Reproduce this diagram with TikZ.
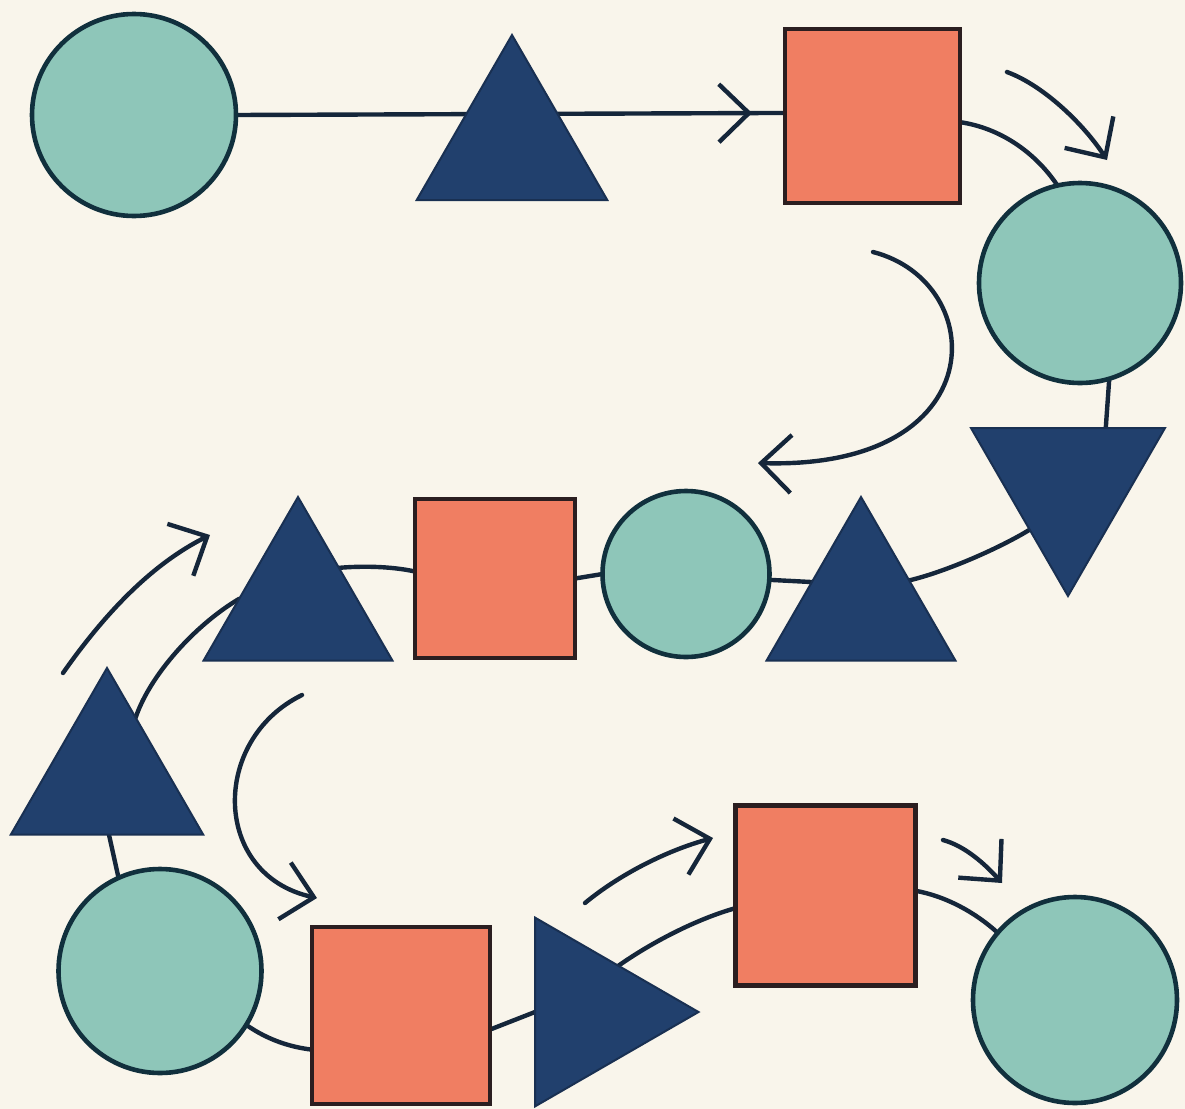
\documentclass[tikz,border=0pt]{standalone}
\usetikzlibrary{shapes.geometric,arrows.meta,decorations.markings}
\pgfdeclarelayer{paper}
\pgfdeclarelayer{links}
\pgfsetlayers{paper,links,main}
\definecolor{cpaper}{HTML}{F9F5EB}
\definecolor{cteal}{HTML}{8EC6B9}
\definecolor{cnavy}{HTML}{21406D}
\definecolor{csalmon}{HTML}{F07E62}
\definecolor{cbox}{HTML}{2B1E20}
\definecolor{cedge}{HTML}{11303D}
\definecolor{cink}{HTML}{15263A}
\begin{document}
\begin{tikzpicture}[x=0.5pt,y=-0.5pt,
  disc/.style={shape=ellipse, fill=cteal, draw=cedge, line width=2.3pt, inner sep=0pt, outer sep=0pt},
  block/.style={shape=rectangle, fill=csalmon, draw=cbox, line width=2.4pt, inner sep=0pt, outer sep=0pt},
  tri/.style={shape=regular polygon, regular polygon sides=3, fill=cnavy, draw=cnavy!75!black, line width=1pt, inner sep=0pt, outer sep=0pt},
  link/.style={color=cink, line width=2.2pt, line cap=round},
  flow/.style={link, -{Straight Barb[length=15pt,width=29pt]}},
  midflow/.style={link, postaction={decorate}, decoration={markings, mark=at position 0.94 with {\arrow{Straight Barb[length=15pt,width=29pt]}}}}
]
\begin{pgfonlayer}{paper}
\fill[cpaper] (0,0) rectangle (1185,1109);
\end{pgfonlayer}
\useasboundingbox (0,0) rectangle (1185,1109);

% shapes
\node[disc, minimum width=102pt, minimum height=101pt] (c1) at (134,115) {};
\node[tri, minimum size=110pt] (t1) at (512,145) {};
\node[block, minimum width=87.5pt, minimum height=87pt] (s1) at (872.5,116) {};
\node[disc, minimum width=101pt, minimum height=100pt] (c2) at (1080,283) {};
\node[tri, minimum size=112pt, shape border rotate=180] (t2) at (1068,484) {};
\node[tri, minimum size=109pt] (t3) at (861,606) {};
\node[disc, minimum width=83.5pt, minimum height=83pt] (c3) at (686,574) {};
\node[block, minimum width=80pt, minimum height=79.5pt] (s2) at (495,578.5) {};
\node[tri, minimum size=109pt] (t4) at (298,606) {};
\node[tri, minimum size=111pt] (t5) at (107,779) {};
\node[disc, minimum width=101.5pt, minimum height=102pt] (c4) at (160,971) {};
\node[block, minimum width=89pt, minimum height=88.5pt] (s3) at (401,1015.5) {};
\node[tri, minimum size=109pt, shape border rotate=-90] (t6) at (589.5,1012) {};
\node[block, minimum width=90pt, minimum height=90pt] (s4) at (825.5,895.5) {};
\node[disc, minimum width=102pt, minimum height=103pt] (c5) at (1075,1000) {};

% free arrow ends
\coordinate (a1s) at (1007,72);   \coordinate (a1e) at (1107,160);
\coordinate (a2s) at (873,252);   \coordinate (a2e) at (758,463);
\coordinate (a3s) at (63,673);    \coordinate (a3e) at (210,535);
\coordinate (a4s) at (302,695);   \coordinate (a4e) at (317,898);
\coordinate (a5s) at (585,903);   \coordinate (a5e) at (713,838);
\coordinate (a6s) at (943,840);   \coordinate (a6e) at (1002,883);

\begin{pgfonlayer}{links}
\draw[midflow] (c1.east) -- (s1.178);
\draw[link] (s1.-4) .. controls (1000,128) and (1035,152) .. (c2.103);
\draw[link] (c2.-73) -- (t2.56);
\draw[link] (t2.230) .. controls (1000,548) and (945,572) .. (t3.28);
\draw[link] (c3.-4) -- (t3.154);
\draw[link] (s2.east) -- (c3.west);
\draw[link] (t4.43) .. controls (360,566) and (390,566) .. (s2.175);
\draw[link] (t5.65) .. controls (150,675) and (195,625) .. (t4.173);
\draw[link] (t5.-88) -- (c4.114);
\draw[link] (c4.-32) .. controls (268,1040) and (290,1047) .. (s3.201);
\draw[link] (s3.-9) -- (t6.180);
\draw[link] (t6.58) .. controls (655,940) and (700,918) .. (s4.188);
\draw[link] (s4.3) .. controls (945,896) and (975,912) .. (c5.139);
\end{pgfonlayer}

% free curved arrows
\draw[flow] (a1s) .. controls (1045,86) and (1085,126) .. (a1e);
\draw[flow] (a2s) .. controls (990,282) and (995,470) .. (a2e);
\draw[flow] (a3s) .. controls (103,616) and (150,565) .. (a3e);
\draw[flow] (a4s) .. controls (210,740) and (212,875) .. (a4e);
\draw[flow] (a5s) .. controls (620,874) and (668,850) .. (a5e);
\draw[flow] (a6s) .. controls (965,846) and (985,864) .. (a6e);
\end{tikzpicture}
\end{document}
